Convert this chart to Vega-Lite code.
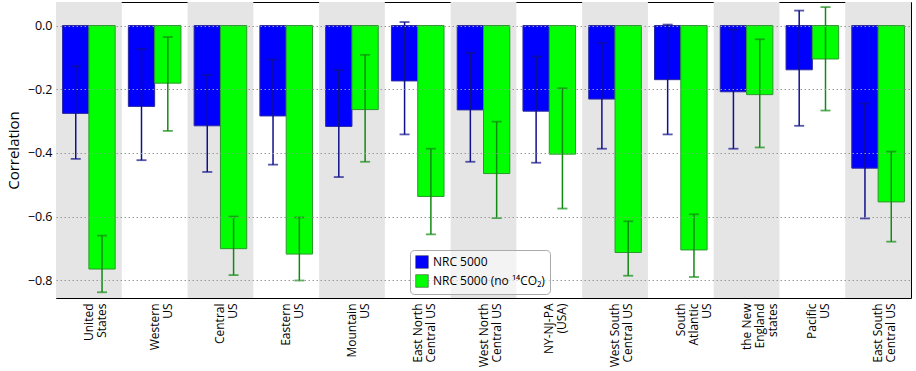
{
  "$schema": "https://vega.github.io/schema/vega-lite/v6.json",
  "width": 855,
  "height": 296,
  "autosize": {"type": "none"},
  "padding": {"left": 56, "top": 2, "right": 5, "bottom": 73},
  "config": {
    "font": "Open Sans",
    "view": {"stroke": "black", "strokeWidth": 1}
  },
  "datasets": {
    "shade": [
      {"region": "United\nStates"},
      {"region": "Central\nUS"},
      {"region": "Mountain\nUS"},
      {"region": "West North\nCentral US"},
      {"region": "West South\nCentral US"},
      {"region": "the New\nEngland\nstates"},
      {"region": "East South\nCentral US"}
    ],
    "corr": [
      {"region": "United\nStates", "series": "NRC 5000", "r": -0.276, "lo": -0.419, "hi": -0.128},
      {"region": "United\nStates", "series": "NRC 5000 (no ¹⁴CO₂)", "r": -0.765, "lo": -0.838, "hi": -0.660},
      {"region": "Western\nUS", "series": "NRC 5000", "r": -0.254, "lo": -0.423, "hi": -0.074},
      {"region": "Western\nUS", "series": "NRC 5000 (no ¹⁴CO₂)", "r": -0.181, "lo": -0.331, "hi": -0.036},
      {"region": "Central\nUS", "series": "NRC 5000", "r": -0.315, "lo": -0.460, "hi": -0.155},
      {"region": "Central\nUS", "series": "NRC 5000 (no ¹⁴CO₂)", "r": -0.701, "lo": -0.784, "hi": -0.600},
      {"region": "Eastern\nUS", "series": "NRC 5000", "r": -0.284, "lo": -0.437, "hi": -0.107},
      {"region": "Eastern\nUS", "series": "NRC 5000 (no ¹⁴CO₂)", "r": -0.718, "lo": -0.801, "hi": -0.603},
      {"region": "Mountain\nUS", "series": "NRC 5000", "r": -0.317, "lo": -0.476, "hi": -0.140},
      {"region": "Mountain\nUS", "series": "NRC 5000 (no ¹⁴CO₂)", "r": -0.264, "lo": -0.428, "hi": -0.092},
      {"region": "East North\nCentral US", "series": "NRC 5000", "r": -0.174, "lo": -0.342, "hi": 0.011},
      {"region": "East North\nCentral US", "series": "NRC 5000 (no ¹⁴CO₂)", "r": -0.537, "lo": -0.656, "hi": -0.387},
      {"region": "West North\nCentral US", "series": "NRC 5000", "r": -0.265, "lo": -0.428, "hi": -0.086},
      {"region": "West North\nCentral US", "series": "NRC 5000 (no ¹⁴CO₂)", "r": -0.465, "lo": -0.605, "hi": -0.302},
      {"region": "NY-NJ-PA\n(USA)", "series": "NRC 5000", "r": -0.269, "lo": -0.431, "hi": -0.097},
      {"region": "NY-NJ-PA\n(USA)", "series": "NRC 5000 (no ¹⁴CO₂)", "r": -0.404, "lo": -0.575, "hi": -0.197},
      {"region": "West South\nCentral US", "series": "NRC 5000", "r": -0.231, "lo": -0.387, "hi": -0.054},
      {"region": "West South\nCentral US", "series": "NRC 5000 (no ¹⁴CO₂)", "r": -0.713, "lo": -0.786, "hi": -0.615},
      {"region": "South\nAtlantic\nUS", "series": "NRC 5000", "r": -0.170, "lo": -0.342, "hi": 0.003},
      {"region": "South\nAtlantic\nUS", "series": "NRC 5000 (no ¹⁴CO₂)", "r": -0.705, "lo": -0.790, "hi": -0.593},
      {"region": "the New\nEngland\nstates", "series": "NRC 5000", "r": -0.208, "lo": -0.387, "hi": -0.013},
      {"region": "the New\nEngland\nstates", "series": "NRC 5000 (no ¹⁴CO₂)", "r": -0.217, "lo": -0.383, "hi": -0.043},
      {"region": "Pacific\nUS", "series": "NRC 5000", "r": -0.139, "lo": -0.315, "hi": 0.047},
      {"region": "Pacific\nUS", "series": "NRC 5000 (no ¹⁴CO₂)", "r": -0.105, "lo": -0.267, "hi": 0.058},
      {"region": "East South\nCentral US", "series": "NRC 5000", "r": -0.448, "lo": -0.606, "hi": -0.245},
      {"region": "East South\nCentral US", "series": "NRC 5000 (no ¹⁴CO₂)", "r": -0.554, "lo": -0.679, "hi": -0.396}
    ]
  },
  "encoding": {
    "x": {
      "field": "region",
      "type": "nominal",
      "scale": {
        "type": "band",
        "paddingInner": 0,
        "paddingOuter": 0,
        "domain": ["United\nStates", "Western\nUS", "Central\nUS", "Eastern\nUS", "Mountain\nUS", "East North\nCentral US", "West North\nCentral US", "NY-NJ-PA\n(USA)", "West South\nCentral US", "South\nAtlantic\nUS", "the New\nEngland\nstates", "Pacific\nUS", "East South\nCentral US"]
      },
      "axis": {
        "title": null,
        "labelAngle": -90,
        "labelAlign": "right",
        "labelBaseline": "middle",
        "labelPadding": 5,
        "ticks": false,
        "domain": false,
        "labelFontSize": 12,
        "labelColor": "black",
        "labelLineHeight": 13,
        "labelExpr": "split(datum.label, '\\n')"
      }
    }
  },
  "layer": [
    {
      "data": {"name": "shade"},
      "mark": {"type": "bar", "color": "#e5e5e5"},
      "encoding": {}
    },
    {
      "data": {"name": "corr"},
      "mark": {"type": "bar", "strokeWidth": 1},
      "encoding": {
        "xOffset": {"field": "series", "type": "nominal", "scale": {"paddingInner": 0, "paddingOuter": 0.25}},
        "y": {
          "field": "r",
          "type": "quantitative",
          "scale": {"domain": [-0.856, 0.074], "nice": false, "zero": false},
          "axis": {
            "title": "Correlation",
            "titleFontSize": 15,
            "titleFontWeight": "normal",
            "titleColor": "black",
            "titlePadding": 6,
            "labelFontSize": 12.5,
            "labelColor": "black",
            "values": [-0.8, -0.6, -0.4, -0.2, 0],
            "labelExpr": "replace(format(datum.value, '.1f'), '-', '\u2212')",
            "grid": true,
            "gridDash": [1.5, 2.5],
            "gridColor": "#999999",
            "domain": false,
            "ticks": false,
            "labelPadding": 4,
            "zindex": 1
          }
        },
        "color": {
          "field": "series",
          "type": "nominal",
          "scale": {"range": ["#0000ff", "#00ff00"]},
          "legend": {
            "title": null,
            "orient": "none",
            "legendX": 354,
            "legendY": 248,
            "fillColor": "rgba(255,255,255,0.55)",
            "strokeColor": "#aaaaaa",
            "cornerRadius": 4,
            "padding": 5,
            "symbolType": "square",
            "symbolSize": 160,
            "symbolStrokeColor": "#333333",
            "symbolStrokeWidth": 0.5,
            "labelFontSize": 12,
            "labelColor": "black",
            "labelLimit": 300,
            "rowPadding": 3,
            "zindex": 2
          }
        },
        "stroke": {
          "condition": {"test": "datum.series === 'NRC 5000'", "value": "#2a2aa0"},
          "value": "#2a9a2a"
        }
      }
    },
    {
      "data": {"name": "corr"},
      "mark": {"type": "rule", "strokeWidth": 1.5},
      "encoding": {
        "xOffset": {"field": "series", "type": "nominal", "scale": {"paddingInner": 0, "paddingOuter": 0.25}},
        "y": {"field": "lo", "type": "quantitative"},
        "y2": {"field": "hi"},
        "color": {
          "condition": {"test": "datum.series === 'NRC 5000'", "value": "#10108c"},
          "value": "#118a11"
        }
      }
    },
    {
      "data": {"name": "corr"},
      "mark": {"type": "tick", "size": 10, "thickness": 1.8},
      "encoding": {
        "xOffset": {"field": "series", "type": "nominal", "scale": {"paddingInner": 0, "paddingOuter": 0.25}},
        "y": {"field": "lo", "type": "quantitative"},
        "color": {
          "condition": {"test": "datum.series === 'NRC 5000'", "value": "#10108c"},
          "value": "#118a11"
        }
      }
    },
    {
      "data": {"name": "corr"},
      "mark": {"type": "tick", "size": 10, "thickness": 1.8},
      "encoding": {
        "xOffset": {"field": "series", "type": "nominal", "scale": {"paddingInner": 0, "paddingOuter": 0.25}},
        "y": {"field": "hi", "type": "quantitative"},
        "color": {
          "condition": {"test": "datum.series === 'NRC 5000'", "value": "#10108c"},
          "value": "#118a11"
        }
      }
    }
  ]
}
